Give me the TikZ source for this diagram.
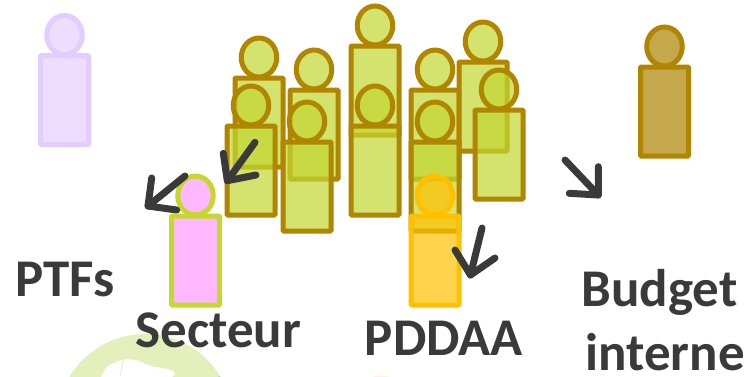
\documentclass[tikz,border=0pt]{standalone}
\usepackage{fontspec}
\setmainfont{Carlito}
\usetikzlibrary{shapes.geometric}
\definecolor{greenfill}{HTML}{C2D631}
\definecolor{olive}{HTML}{B08600}
\definecolor{limeline}{HTML}{C5D92D}
\definecolor{pinkfill}{HTML}{FFB7FF}
\definecolor{orangeline}{HTML}{FFC000}
\definecolor{lavline}{HTML}{E3CCFF}
\definecolor{lavfill}{HTML}{EEDDFF}
\definecolor{brownfill}{HTML}{C5A84C}
\definecolor{inkgray}{HTML}{3A3A3A}
\definecolor{logogreen}{HTML}{E4F0BB}
\newcommand\DrawPerson[4][crowd]{%
  \pgfmathsetmacro\headY{#4-20.5} % head sits on the body
  \node[#1,headshape] (#2head) at (#3,\headY) {};
  \node[#1,bodyshape,anchor=north] (#2body) at (#3,#4) {};
}
\newcommand\DrawArrow[9]{%
  \coordinate (#1s) at (#2,#3);
  \coordinate (#1t) at (#4,#5);
  \coordinate (#1a) at (#6,#7);
  \coordinate (#1b) at (#8,#9);
  \draw[darrow] (#1s) -- (#1t);
  \draw[darrow] (#1a) -- (#1t) -- (#1b);
}
\tikzset{%
  headshape/.style={ellipse,minimum width=35.5pt,minimum height=39pt},
  bodyshape/.style={rectangle,rounded corners=1pt,minimum width=48pt,minimum height=89pt},
  crowd/.style={draw=olive,line width=5pt,fill=greenfill,fill opacity=.7,
    inner sep=0pt,outer sep=0pt},
  private/.style={crowd,draw=limeline,fill=pinkfill,fill opacity=1},
  caadp/.style={crowd,draw=orangeline,fill=orangeline},
  donor/.style={crowd,draw=lavline,fill=lavfill,fill opacity=1},
  budget/.style={crowd,fill=brownfill,fill opacity=1},
  darrow/.style={draw=inkgray,line width=7pt,line cap=round,line join=round},
  label/.style={text=inkgray,font=\fontsize{53}{60}\selectfont\bfseries,
    anchor=base,inner sep=0pt,outer sep=0pt}
}
\begin{document}
\begin{tikzpicture}[x=1pt,y=-1pt]

%% page and clipping

\useasboundingbox (0,0) rectangle (744,376);
\clip (0,0) rectangle (744,376);

%% logo cut by the lower edge

\fill[logogreen] (145,422) circle (88);
\fill[white,rounded corners=3pt] (100,378) -- (107,366) -- (123,359) -- (137,360) -- (150,366)
  -- (168,369) -- (176,372) -- (172,378) -- cycle;
\draw[color=olive!18,line width=1pt] (127,343) -- (120,376);
\fill[orange!10] (381,379.5) ellipse (11 and 4);

%% back row

\DrawPerson{a}{259}{78}
\DrawPerson{b}{314}{90}
\DrawPerson{c}{375}{46}
\DrawPerson{d}{435}{90}
\DrawPerson{e}{483}{62}

%% front row

\DrawPerson{f}{251}{126}
\DrawPerson{g}{307}{142}
\DrawPerson{h}{375}{126}
\DrawPerson{i}{435}{142}
\DrawPerson{j}{499}{110}

%% single persons

\DrawPerson[donor]{ptf}{64.5}{55.5}
\DrawPerson[private]{sect}{195.5}{216}
\DrawPerson[caadp]{pdd}{435}{216}
\DrawPerson[budget]{bud}{664.5}{67}

%% arrows

\DrawArrow{ptfarrow}{185}{176}{148}{206}{151.7}{178}{176.7}{210}
\DrawArrow{sectarrow}{255}{142.3}{227.3}{180.7}{223.3}{153.3}{256}{175}
\DrawArrow{pddarrow}{482}{228}{470.5}{275}{455}{250}{495}{258}
\DrawArrow{budarrow}{565}{160}{598.3}{195}{598.3}{166.7}{569.3}{193.3}

%% labels

\node[label] (ptflabel) at (65,296) {PTFs};
\node[label] (sectlabel) at (218.5,347) {Secteur};
\node[label] (privlabel) at (222,414) {privé};
\node[label] (pddlabel) at (444,355) {PDDAA};
\node[label] (budlabel) at (659.5,306) {Budget};
\node[label] (intlabel) at (665,370) {interne};
\end{tikzpicture}
\end{document}
